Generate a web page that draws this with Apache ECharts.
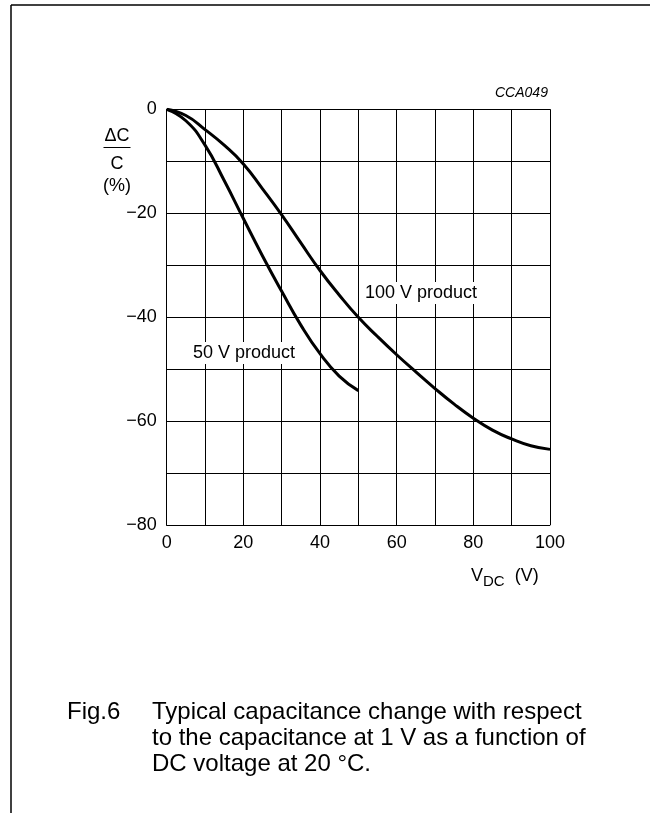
<!DOCTYPE html>
<html>
<head>
<meta charset="utf-8">
<script src="https://cdn.jsdelivr.net/npm/echarts@6/dist/echarts.min.js"></script>
<style>
html,body{margin:0;padding:0;background:#fff;}
#chart{width:650px;height:813px;}
</style>
</head>
<body>
<div id="chart"></div>
<script>
const xTicks = [0, 20, 40, 60, 80, 100];
const yTicks = [0, -20, -40, -60, -80];
const v50x = [0, 5, 10, 15, 20, 25, 30, 35, 40, 45, 50];
const v50y = [0, -2.2, -6.9, -13.7, -21, -28.2, -35, -41.5, -47, -51.3, -54.1];
const v100x = [0, 5, 10, 15, 20, 25, 30, 35, 40, 45, 50, 55, 60, 65, 70, 75, 80, 85, 90, 95, 100];
const v100y = [0, -1.2, -3.9, -6.9, -10.5, -15.3, -20.3, -25.7, -31, -35.7, -40, -43.7, -47.2, -50.5, -53.7, -56.7, -59.4, -61.7, -63.4, -64.7, -65.4];
const seriesNames = ['50 V product', '100 V product'];
const captionLines = [
  'Typical capacitance change with respect',
  'to the capacitance at 1 V as a function of',
  'DC voltage at 20 \u00B0C.'
];

const FONT = '"Liberation Sans", Arial, sans-serif';
const chart = echarts.init(document.getElementById('chart'));

function pairs(xs, ys) { return xs.map((x, i) => [x, ys[i]]); }

const graphics = [
  { type: 'line', shape: { x1: 11, y1: 5, x2: 650, y2: 5 }, style: { stroke: '#000', lineWidth: 1.5 } },
  { type: 'line', shape: { x1: 11, y1: 5, x2: 11, y2: 813 }, style: { stroke: '#000', lineWidth: 1.5 } },
  { type: 'text', x: 495, y: 93, style: { text: 'CCA049', font: 'italic 14px ' + FONT, fill: '#000', verticalAlign: 'middle' } },
  { type: 'text', x: 117, y: 136, style: { text: '\u0394C', font: '18px ' + FONT, fill: '#000', align: 'center', verticalAlign: 'middle' } },
  { type: 'line', shape: { x1: 103.5, y1: 147.5, x2: 130.5, y2: 147.5 }, style: { stroke: '#000', lineWidth: 1 } },
  { type: 'text', x: 117, y: 164, style: { text: 'C', font: '18px ' + FONT, fill: '#000', align: 'center', verticalAlign: 'middle' } },
  { type: 'text', x: 117, y: 186.5, style: { text: '(%)', font: '18px ' + FONT, fill: '#000', align: 'center', verticalAlign: 'middle' } },
  { type: 'text', x: 471, y: 576, z: 10, style: {
      text: '{v|V}{s|DC}{v|  (V)}', fill: '#000', verticalAlign: 'middle',
      rich: { v: { font: '18px ' + FONT, fill: '#000' }, s: { font: '15px ' + FONT, fill: '#000', padding: [11, 0, 0, 0] } } } },
  { type: 'text', x: 192, y: 353, z: 10, style: {
      text: seriesNames[0], font: '18px ' + FONT, fill: '#000', verticalAlign: 'middle',
      backgroundColor: '#fff', padding: [2, 1, 2, 1] } },
  { type: 'text', x: 364, y: 293, z: 10, style: {
      text: seriesNames[1], font: '18px ' + FONT, fill: '#000', verticalAlign: 'middle',
      backgroundColor: '#fff', padding: [2, 1, 2, 1] } },
  { type: 'text', x: 67, y: 712, style: { text: 'Fig.6', font: '24px ' + FONT, fill: '#000', verticalAlign: 'middle' } }
];
captionLines.forEach((t, i) => {
  graphics.push({ type: 'text', x: 152, y: 712 + i * 26,
    style: { text: t, font: '24px ' + FONT, fill: '#000', verticalAlign: 'middle' } });
});

chart.setOption({
  animation: false,
  backgroundColor: '#fff',
  grid: { left: 166.7, top: 109.3, width: 383.3, height: 416, containLabel: false },
  xAxis: {
    type: 'value', min: 0, max: 100, interval: 10,
    axisLine: { show: true, lineStyle: { color: '#000', width: 1 } },
    axisTick: { show: false },
    splitLine: { show: true, lineStyle: { color: '#000', width: 1 } },
    axisLabel: {
      color: '#000', fontFamily: FONT, fontSize: 18, margin: 9,
      formatter: v => xTicks.includes(v) ? String(v) : ''
    }
  },
  yAxis: {
    type: 'value', min: -80, max: 0, interval: 10,
    axisLine: { show: true, lineStyle: { color: '#000', width: 1 } },
    axisTick: { show: false },
    splitLine: { show: true, lineStyle: { color: '#000', width: 1 } },
    axisLabel: {
      color: '#000', fontFamily: FONT, fontSize: 18, margin: 10,
      formatter: v => yTicks.includes(v) ? (v < 0 ? '\u2212' + Math.abs(v) : String(v)) : ''
    }
  },
  series: [
    { name: seriesNames[0], type: 'line', data: pairs(v50x, v50y), smooth: 0.5, showSymbol: false,
      lineStyle: { color: '#000', width: 3 }, z: 5 },
    { name: seriesNames[1], type: 'line', data: pairs(v100x, v100y), smooth: 0.5, showSymbol: false,
      lineStyle: { color: '#000', width: 3 }, z: 5 }
  ],
  graphic: graphics
});
</script>
</body>
</html>
